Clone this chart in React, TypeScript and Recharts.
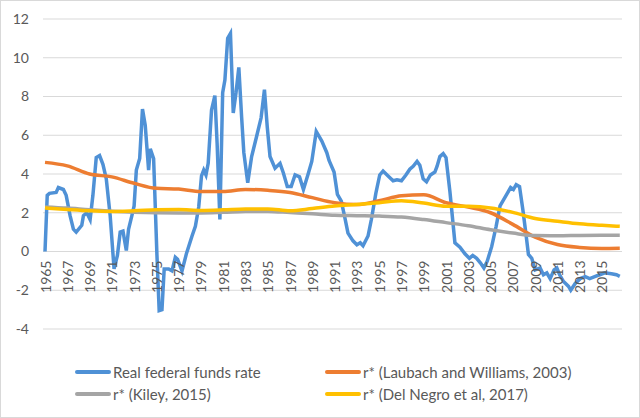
import { CartesianGrid, Line, LineChart, XAxis, YAxis } from "recharts";

// Real federal funds rate (decimal years)
const fedYears = [
  1965.0, 1965.2, 1965.4, 1966.0, 1966.2, 1966.65, 1966.9, 1967.25, 1967.55, 1967.8,
  1968.3, 1968.45, 1968.75, 1969.05, 1969.3, 1969.6, 1969.9, 1970.2, 1970.5, 1970.85,
  1971.2, 1971.5, 1971.75, 1972.0, 1972.3, 1972.5, 1972.8, 1973.0, 1973.2, 1973.5,
  1973.75, 1974.0, 1974.3, 1974.45, 1974.75, 1975.05, 1975.25, 1975.5, 1975.7, 1976.1,
  1976.4, 1976.7, 1976.9, 1977.3, 1977.7, 1978.2, 1978.5, 1978.8, 1979.05, 1979.25,
  1979.45, 1979.65, 1979.95, 1980.25, 1980.45, 1980.7, 1980.95, 1981.15, 1981.4, 1981.65,
  1981.9, 1982.15, 1982.4, 1982.65, 1982.85, 1983.2, 1983.55, 1984.0, 1984.4, 1984.7,
  1984.95, 1985.2, 1985.65, 1986.1, 1986.4, 1986.75, 1987.1, 1987.45, 1987.85, 1988.2,
  1988.65, 1988.95, 1989.35, 1989.85, 1990.3, 1990.5, 1990.95, 1991.25, 1991.6, 1991.9,
  1992.2, 1992.65, 1993.0, 1993.3, 1993.55, 1994.0, 1994.3, 1994.7, 1995.05, 1995.35,
  1995.8, 1996.25, 1996.6, 1997.0, 1997.4, 1997.75, 1998.05, 1998.4, 1998.65, 1998.95,
  1999.25, 1999.6, 2000.0, 2000.2, 2000.45, 2000.75, 2001.0, 2001.35, 2001.8, 2002.25,
  2002.7, 2003.1, 2003.4, 2003.75, 2004.1, 2004.4, 2004.7, 2005.1, 2005.5, 2005.85,
  2006.15, 2006.5, 2006.8, 2007.05, 2007.3, 2007.6, 2007.9, 2008.2, 2008.4, 2008.7,
  2009.0, 2009.45, 2009.75, 2010.05, 2010.35, 2010.7, 2010.95, 2011.2, 2011.55, 2012.0,
  2012.2, 2012.6, 2013.05, 2013.5, 2013.9, 2014.35, 2014.8, 2015.25, 2015.85, 2016.3,
  2016.6,
];
const fedRate = [
  0, 2.9, 3.0, 3.05, 3.3, 3.2, 2.9, 1.85, 1.15, 1.0,
  1.35, 1.85, 2.0, 1.65, 2.9, 4.85, 4.95, 4.5, 3.75, 1.85,
  -0.9, -0.2, 1.0, 1.05, 0.05, 1.15, 1.85, 2.35, 4.2, 4.8,
  7.35, 6.5, 4.2, 5.3, 4.8, -0.2, -3.05, -3.0, -0.9, -0.9,
  -1.0, -0.3, -0.4, -1.0, -0.1, 0.8, 1.3, 2.3, 3.9, 4.2,
  3.95, 4.55, 7.3, 8.05, 5.6, 1.65, 8.2, 8.85, 11.0, 11.25,
  7.15, 8.2, 9.5, 6.95, 5.1, 3.55, 4.9, 5.95, 6.9, 8.35,
  6.45, 4.9, 4.3, 4.55, 4.05, 3.35, 3.35, 3.95, 3.85, 3.2,
  4.05, 4.65, 6.2, 5.7, 5.1, 4.7, 4.1, 2.95, 2.6, 1.8,
  0.95, 0.55, 0.35, 0.45, 0.3, 0.8, 1.65, 3.0, 3.95, 4.15,
  3.9, 3.65, 3.7, 3.65, 3.95, 4.25, 4.4, 4.65, 4.45, 3.75,
  3.6, 3.95, 4.1, 4.4, 4.9, 5.05, 4.85, 3.1, 0.45, 0.22,
  -0.12, -0.35, -0.2, -0.35, -0.6, -0.85, -0.5, 0.25, 1.3, 2.35,
  2.65, 3.0, 3.3, 3.2, 3.45, 3.35, 2.15, 0.8, -0.15, -0.35,
  -0.95, -0.85, -1.2, -1.1, -1.4, -0.95, -0.85, -1.2, -1.55, -1.8,
  -2.0, -1.65, -1.4, -1.3, -1.4, -1.3, -1.2, -1.1, -1.15, -1.2,
  -1.28,
];

// r* estimates, read every two years
const rstarYears = [
  1965, 1967, 1969, 1971, 1973, 1975, 1977, 1979, 1981, 1983, 1985, 1987, 1989,
  1991, 1993, 1995, 1997, 1999, 2001, 2003, 2005, 2007, 2009, 2011, 2013, 2015, 2016.6,
];
const laubachWilliams = [
  4.6, 4.42, 4.0, 3.85, 3.52, 3.26, 3.22, 3.1, 3.1, 3.2, 3.16, 3.05, 2.78,
  2.52, 2.42, 2.62, 2.88, 2.93, 2.52, 2.29, 2.0, 1.4, 0.74, 0.36, 0.21, 0.16, 0.17,
];
const kiley = [
  2.3, 2.24, 2.15, 2.08, 2.03, 2.0, 1.99, 1.99, 2.02, 2.06, 2.07, 2.01, 1.95,
  1.87, 1.85, 1.83, 1.78, 1.65, 1.49, 1.33, 1.12, 0.95, 0.82, 0.81, 0.83, 0.84, 0.84,
];
const delNegro = [
  2.25, 2.17, 2.1, 2.07, 2.1, 2.15, 2.17, 2.12, 2.15, 2.2, 2.2, 2.1, 2.22,
  2.35, 2.43, 2.52, 2.62, 2.5, 2.34, 2.33, 2.25, 2.02, 1.7, 1.56, 1.43, 1.35, 1.3,
];

const yearTicks = [
  1965, 1967, 1969, 1971, 1973, 1975, 1977, 1979, 1981, 1983, 1985, 1987, 1989,
  1991, 1993, 1995, 1997, 1999, 2001, 2003, 2005, 2007, 2009, 2011, 2013, 2015,
];
const valueTicks = [-4, -2, 0, 2, 4, 6, 8, 10, 12];

const toRows = (xs: number[], vs: number[]) => xs.map((year, i) => ({ year, v: vs[i] }));

const series = [
  { name: "Real federal funds rate", color: "#4F91D6", data: toRows(fedYears, fedRate), curve: "linear" },
  { name: "r* (Laubach and Williams, 2003)", color: "#ED7D31", data: toRows(rstarYears, laubachWilliams), curve: "monotone" },
  { name: "r* (Kiley, 2015)", color: "#A5A5A5", data: toRows(rstarYears, kiley), curve: "monotone" },
  { name: "r* (Del Negro et al, 2017)", color: "#FFC000", data: toRows(rstarYears, delNegro), curve: "monotone" },
] as const;

const W = 640;
const H = 418;
const margin = { top: 19, right: 18, bottom: 59, left: 8 };
const X_AXIS_H = 30;
const plotTop = margin.top;
const plotBottom = H - margin.bottom - X_AXIS_H;
// the category labels sit under the zero line, as in Excel
const zeroY = plotBottom - ((plotBottom - plotTop) * 4) / 16;

const font = "Lato, 'Open Sans', sans-serif";
const textColor = "#595959";

function YearTick({ x, payload }: { x?: number; payload?: { value: number } }) {
  const y = zeroY + 9;
  return (
    <text
      x={x}
      y={y}
      transform={`rotate(-90 ${x} ${y})`}
      textAnchor="end"
      dominantBaseline="central"
      fontSize={14}
      fontFamily={font}
      fill={textColor}
    >
      {payload?.value}
    </text>
  );
}

function ChartLegend() {
  return (
    <div
      style={{
        position: "absolute",
        left: 75,
        top: 363,
        display: "grid",
        gridTemplateColumns: "250px 260px",
        rowGap: 4,
        fontFamily: font,
        fontSize: 15,
        color: textColor,
      }}
    >
      {series.map((s) => (
        <div key={s.name} style={{ display: "flex", alignItems: "center", height: 18 }}>
          <span style={{ width: 36, height: 4, background: s.color, marginRight: 2, borderRadius: 2 }} />
          {s.name}
        </div>
      ))}
    </div>
  );
}

export default function App() {
  return (
    <div style={{ position: "relative", width: W, height: H, background: "#fff" }}>
      <style>{"body{margin:0}"}</style>
      <LineChart width={W} height={H} margin={margin}>
        <CartesianGrid stroke="#d9d9d9" vertical={false} />
        <XAxis
          type="number"
          dataKey="year"
          domain={[1964.82, 2016.8]}
          ticks={yearTicks}
          interval={0}
          height={X_AXIS_H}
          axisLine={false}
          tickLine={false}
          tick={<YearTick />}
          allowDuplicatedCategory={false}
        />
        <YAxis
          domain={[-4, 12]}
          ticks={valueTicks}
          width={35}
          axisLine={false}
          tickLine={false}
          tickMargin={8}
          tick={{ fontSize: 14, fill: textColor, fontFamily: font }}
        />
        {series.map((s) => (
          <Line
            key={s.name}
            data={s.data}
            dataKey="v"
            name={s.name}
            type={s.curve}
            stroke={s.color}
            strokeWidth={3.5}
            dot={false}
            isAnimationActive={false}
          />
        ))}
      </LineChart>
      <ChartLegend />
      <div
        style={{
          position: "absolute",
          inset: 0,
          border: "1px solid #d9d9d9",
          pointerEvents: "none",
        }}
      />
    </div>
  );
}
